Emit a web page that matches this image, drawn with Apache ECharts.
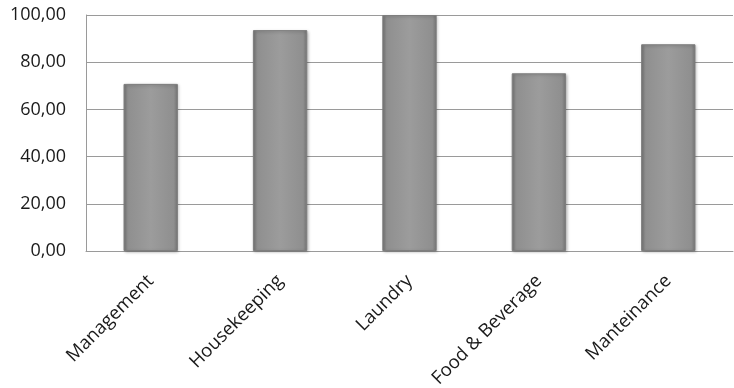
<!DOCTYPE html>
<html>
<head>
<meta charset="utf-8">
<script src="https://cdn.jsdelivr.net/npm/echarts@6/dist/echarts.min.js"></script>
<style>
  html, body { margin: 0; padding: 0; background: #fff; }
  #chart { width: 734px; height: 388px; }
</style>
</head>
<body>
<div id="chart"></div>
<script>
// categories and values
var categories = ['Management', 'Housekeeping', 'Laundry', 'Food & Beverage', 'Manteinance'];
var values = [70.8, 93.6, 100, 75.3, 87.6];
var yTicks = [0, 20, 40, 60, 80, 100];

var myChart = echarts.init(document.getElementById('chart'));
var options = {
  animation: false,
  grid: { left: 86, right: 1, top: 15, bottom: 137, containLabel: false, outerBoundsMode: 'none' },
  xAxis: {
    type: 'category',
    data: categories,
    axisLine: { show: true, lineStyle: { color: '#9a9a9a', width: 1 } },
    axisTick: { show: false },
    axisLabel: {
      rotate: 45,
      interval: 0,
      margin: 27,
      color: '#1a1a1a',
      fontSize: 18.5,
      fontFamily: 'Open Sans'
    }
  },
  yAxis: {
    type: 'value',
    min: yTicks[0],
    max: yTicks[yTicks.length - 1],
    interval: 20,
    axisLine: { show: true, lineStyle: { color: '#9a9a9a', width: 1 } },
    axisTick: { show: false },
    splitLine: { lineStyle: { color: '#9a9a9a', width: 1 } },
    axisLabel: {
      margin: 20,
      color: '#1a1a1a',
      fontSize: 18,
      fontFamily: 'Open Sans',
      formatter: function (v) { return v.toFixed(2).replace('.', ','); }
    }
  },
  series: [
    {
      type: 'bar',
      data: values,
      barWidth: '42%',
      itemStyle: {
        color: new echarts.graphic.LinearGradient(0, 0, 1, 0, [
          { offset: 0, color: '#767676' },
          { offset: 0.08, color: '#8f8f8f' },
          { offset: 0.5, color: '#9c9c9c' },
          { offset: 0.92, color: '#8f8f8f' },
          { offset: 1, color: '#767676' }
        ]),
        borderColor: '#7e7e7e',
        borderWidth: 1,
        shadowColor: 'rgba(0,0,0,0.25)',
        shadowBlur: 3,
        shadowOffsetX: 1,
        shadowOffsetY: 1
      }
    }
  ]
};
myChart.setOption(options);
</script>
</body>
</html>
